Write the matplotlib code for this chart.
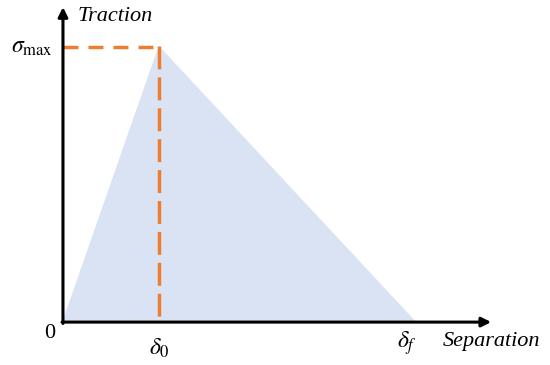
import matplotlib
matplotlib.use("Agg")
import matplotlib.pyplot as plt

plt.rcParams['font.family'] = ['Liberation Serif', 'DejaVu Serif']
plt.rcParams['mathtext.fontset'] = 'stix'

# Data (normalized)
delta0 = 1.0
deltaf = 3.67
sigma_max = 1.0
tri_x = [0.0, delta0, deltaf]
tri_y = [0.0, sigma_max, 0.0]

fig = plt.figure(figsize=(5.5, 3.65), dpi=100)
ax = fig.add_axes([0, 0, 1, 1])
ax.set_xlim(-0.656, 5.073)
ax.set_ylim(-0.156, 1.171)
ax.axis('off')

ax.fill(tri_x, tri_y, color='#dae3f3', zorder=1)

orange = '#ed7d31'
ax.plot([0, delta0], [sigma_max, sigma_max], color=orange, lw=2.5,
        dashes=(4.3, 2.9), zorder=3)
ax.plot([delta0, delta0], [sigma_max + 0.003, 0], color=orange, lw=2.5,
        dashes=(6.6, 2.3), zorder=3)

# axes arrows
ax.annotate('', xy=(4.46, 0), xytext=(-0.01, 0),
            arrowprops=dict(arrowstyle='-|>', color='black', lw=2.2,
                            mutation_scale=14, shrinkA=0, shrinkB=0), zorder=4)
ax.annotate('', xy=(0, 1.145), xytext=(0, -0.005),
            arrowprops=dict(arrowstyle='-|>', color='black', lw=2.2,
                            mutation_scale=14, shrinkA=0, shrinkB=0), zorder=4)

fs = 16
ax.text(0.15, 1.11, 'Traction', style='italic', fontsize=fs, ha='left', va='center')
ax.text(-0.1, sigma_max, r'$\sigma_{\mathrm{max}}$', fontsize=fs + 1, ha='right', va='center')
ax.text(-0.08, -0.04, '0', fontsize=fs, ha='right', va='center')
ax.text(delta0, -0.095, r'$\delta_0$', fontsize=fs + 1, ha='center', va='center')
ax.text(3.58, -0.075, r'$\delta_f$', fontsize=fs + 1, ha='center', va='center')
ax.text(4.46, -0.07, 'Separation', style='italic', fontsize=fs, ha='center', va='center')

fig.savefig('out.png', dpi=100)
